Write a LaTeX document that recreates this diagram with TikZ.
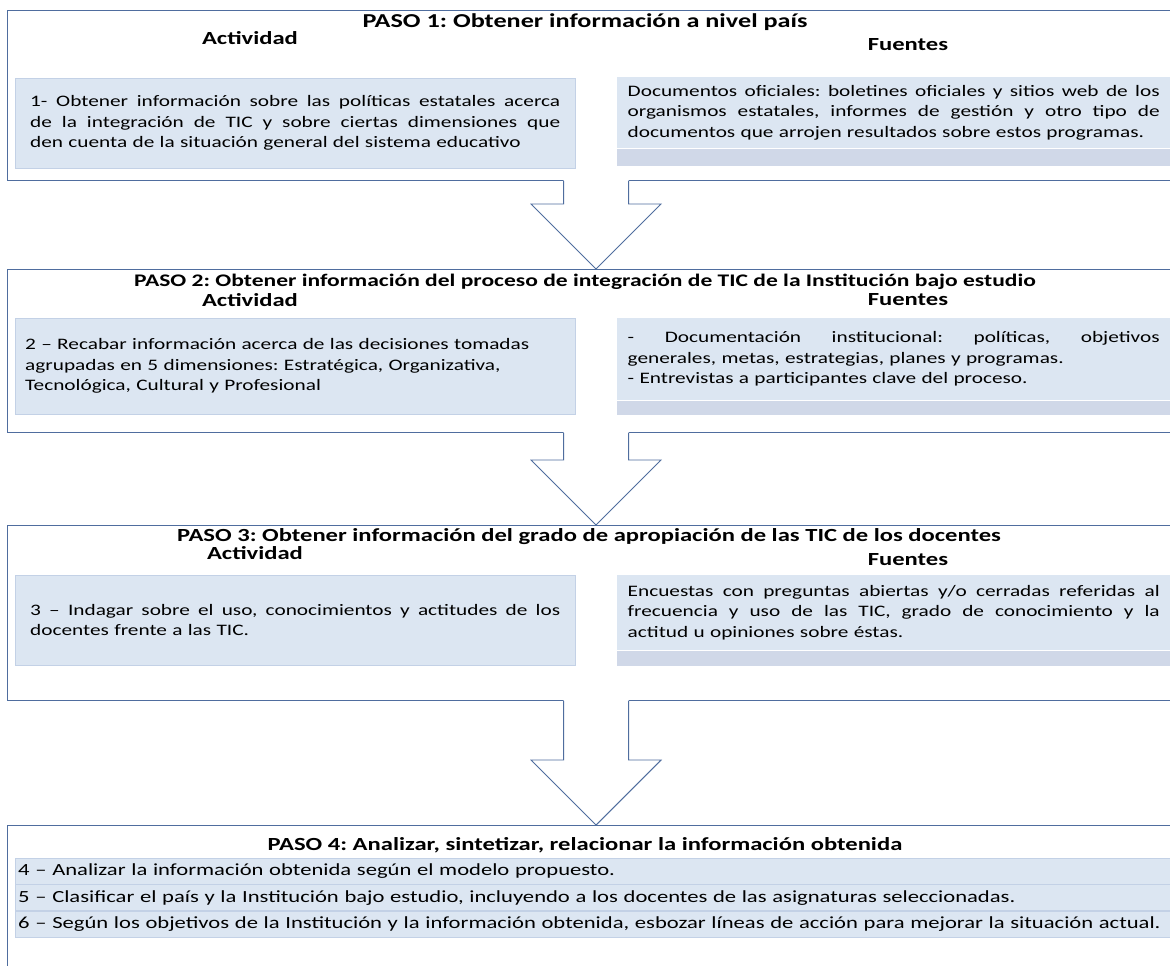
\documentclass[tikz,border=0pt]{standalone}
\usepackage{fontspec}
\setmainfont{Carlito}[FakeStretch=1.33]
\usetikzlibrary{positioning,calc}

\definecolor{framec}{HTML}{4F6D9E}
\definecolor{boxfill}{HTML}{DCE6F2}
\definecolor{boxline}{HTML}{C3D1E6}
\definecolor{bandfill}{HTML}{D0D8E8}

% justified line: width, text
\newcommand{\jline}[2]{\noindent\hbox to #1{\spaceskip=\fontdimen2\font plus 1fil\relax#2}}

% block arrow from one step frame to the next
\newcommand{\pasoflecha}[2]{%
  \fill[white] ($(#1.south)+(-32.5,-1)$) |- ($(#2.north)+(-65,-65)$) -- (#2.north)
    -- ($(#2.north)+(65,-65)$) -| ($(#1.south)+(32.5,-1)$) -- cycle;
  \draw[flecha] ($(#1.south)+(-32.5,0)$) |- ($(#2.north)+(-65,-65)$) -- (#2.north)
    -- ($(#2.north)+(65,-65)$) -| ($(#1.south)+(32.5,0)$);
}

\begin{document}
\frenchspacing
\begin{tikzpicture}[
  x=1pt, y=-1pt,
  font=\fontsize{16}{20.5}\selectfont,
  stepbox/.style={
    rectangle,
    draw=framec,
    line width=1.2pt,
    anchor=north west,
    minimum width=1177pt,
    inner sep=0pt
  },
  title/.style={
    font=\fontsize{18.5}{20}\selectfont\bfseries
  },
  colhead/.style={
    font=\fontsize{18.5}{20}\selectfont\bfseries
  },
  actbox/.style={
    rectangle,
    draw=boxline,
    fill=boxfill,
    anchor=north west,
    minimum width=560pt,
    text width=530pt,
    inner xsep=15pt,
    align=left
  },
  srcbox/.style={
    rectangle,
    fill=boxfill,
    anchor=north west,
    minimum width=553pt,
    text width=532pt,
    inner xsep=10.5pt,
    align=left
  },
  band/.style={
    rectangle,
    fill=bandfill,
    minimum width=553pt,
    inner sep=0pt
  },
  rowbox/.style={
    rectangle,
    draw=boxline,
    fill=boxfill,
    anchor=north west,
    minimum width=1160pt,
    minimum height=26pt,
    text width=1154pt,
    inner xsep=3pt,
    align=left,
    font=\fontsize{17}{20.5}\selectfont
  },
  flecha/.style={
    draw=framec,
    line width=0.9pt
  }
]

\useasboundingbox (0,0) rectangle (1170,966);
\clip (0,0) rectangle (1170,966);

% step frames
\node[stepbox, minimum height=170pt] (s1) at (7,10) {};
\node[stepbox, minimum height=163pt] (s2) at (7,269) {};
\node[stepbox, minimum height=175pt] (s3) at (7,525) {};
\node[stepbox, minimum height=200pt] (s4) at (7,825) {};

% PASO 1
\node[title, font=\fontsize{19.7}{20}\selectfont\bfseries] (t1) at (585,22) {PASO 1: Obtener información a nivel país};
\node[colhead] (h1a) at (250,38) {Actividad};
\node[colhead] (h1f) at (908,45) {Fuentes};
\node[actbox, minimum height=90pt] (a1) at (15,78) {\jline{530pt}{1- Obtener información sobre las políticas estatales acerca}\\
  \jline{530pt}{de la integración de TIC y sobre ciertas dimensiones que}\\
  den cuenta de la situación general del sistema educativo};
\node[srcbox, minimum height=71pt] (f1) at (617,77) {\jline{532pt}{Documentos oficiales: boletines oficiales y sitios web de los}\\
  \jline{532pt}{organismos estatales, informes de gestión y otro tipo de}\\
  documentos que arrojen resultados sobre estos programas.};
\node[band, minimum height=17pt, below=0pt of f1] (b1) {};

% PASO 2
\node[title, font=\fontsize{17.7}{20}\selectfont\bfseries] (t2) at (585,282) {PASO 2: Obtener información del proceso de integración de TIC de la Institución bajo estudio};
\node[colhead] (h2a) at (250,300) {Actividad};
\node[colhead] (h2f) at (908,300) {Fuentes};
\node[actbox, minimum height=96pt, inner xsep=10pt, text width=540pt] (a2) at (15,318) {2 – Recabar información acerca de las decisiones tomadas\\
  agrupadas en 5 dimensiones: Estratégica, Organizativa,\\
  Tecnológica, Cultural y Profesional};
\node[srcbox, minimum height=82pt] (f2) at (617,318) {\jline{532pt}{- Documentación institucional: políticas, objetivos}\\
  generales, metas, estrategias, planes y programas.\\
  - Entrevistas a participantes clave del proceso.};
\node[band, minimum height=14pt, below=0pt of f2] (b2) {};

% PASO 3
\node[title] (t3) at (589,537) {PASO 3: Obtener información del grado de apropiación de las TIC de los docentes};
\node[colhead] (h3a) at (255,553) {Actividad};
\node[colhead] (h3f) at (908,560) {Fuentes};
\node[actbox, minimum height=90pt] (a3) at (15,575) {\jline{530pt}{3 – Indagar sobre el uso, conocimientos y actitudes de los}\\
  docentes frente a las TIC.};
\node[srcbox, minimum height=75pt] (f3) at (617,575) {\jline{532pt}{Encuestas con preguntas abiertas y/o cerradas referidas al}\\
  \jline{532pt}{frecuencia y uso de las TIC, grado de conocimiento y la}\\
  actitud u opiniones sobre éstas.};
\node[band, minimum height=15pt, below=0pt of f3] (b3) {};

% PASO 4
\node[title] (t4) at (585,845) {PASO 4: Analizar, sintetizar, relacionar la información obtenida};
\node[rowbox] (r4) at (15,858) {4 – Analizar la información obtenida según el modelo propuesto.};
\node[rowbox, below=0pt of r4] (r5) {5 – Clasificar el país y la Institución bajo estudio, incluyendo a los docentes de las asignaturas seleccionadas.};
\node[rowbox, below=0pt of r5] (r6) {6 – Según los objetivos de la Institución y la información obtenida, esbozar líneas de acción para mejorar la situación actual.};

% arrows between steps
\pasoflecha{s1}{s2}
\pasoflecha{s2}{s3}
\pasoflecha{s3}{s4}

\end{tikzpicture}
\end{document}
